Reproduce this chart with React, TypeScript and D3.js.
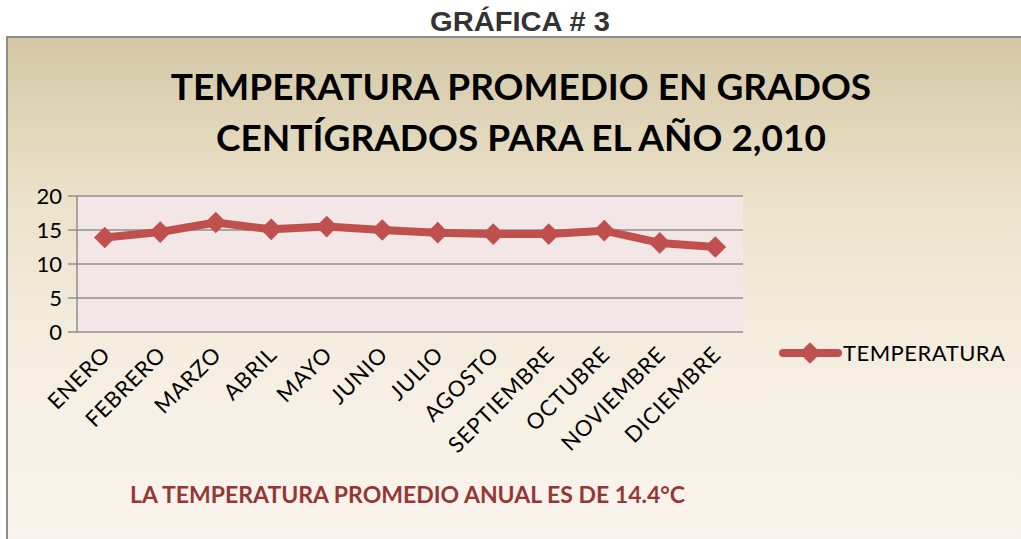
import React, { useEffect, useRef } from 'react'
import * as d3 from 'd3'

const months = ['ENERO', 'FEBRERO', 'MARZO', 'ABRIL', 'MAYO', 'JUNIO', 'JULIO', 'AGOSTO', 'SEPTIEMBRE', 'OCTUBRE', 'NOVIEMBRE', 'DICIEMBRE']
const temperatura = [13.9, 14.7, 16.1, 15.1, 15.5, 15.0, 14.6, 14.4, 14.4, 14.9, 13.1, 12.5]
const yTicks = [0, 5, 10, 15, 20]
const seriesName = 'TEMPERATURA'

const W = 1021
const H = 539
const font = 'Lato, "Open Sans", sans-serif'

export default function App() {
  const ref = useRef<SVGSVGElement | null>(null)

  useEffect(() => {
    if (!ref.current) return
    const svg = d3.select(ref.current)
    svg.selectAll('*').remove()

    const defs = svg.append('defs')
    const grad = defs.append('linearGradient').attr('id', 'bg').attr('x1', 0).attr('y1', 0).attr('x2', 0).attr('y2', 1)
    grad.append('stop').attr('offset', '0%').attr('stop-color', '#d3c7a5')
    grad.append('stop').attr('offset', '30%').attr('stop-color', '#ebe2ca')
    grad.append('stop').attr('offset', '60%').attr('stop-color', '#f5eee0')
    grad.append('stop').attr('offset', '100%').attr('stop-color', '#fcf5f0')

    // page title
    svg.append('text')
      .attr('x', 430).attr('y', 31)
      .attr('font-family', '"Liberation Sans Narrow", "Liberation Sans", Arial, sans-serif')
      .attr('font-weight', 'bold').attr('font-size', 27)
      .attr('textLength', 180).attr('lengthAdjust', 'spacingAndGlyphs')
      .attr('fill', '#333')
      .text('GRÁFICA # 3')

    // chart frame
    svg.append('rect')
      .attr('x', 7).attr('y', 37).attr('width', W + 10).attr('height', H)
      .attr('fill', 'url(#bg)').attr('stroke', '#8c8c8c').attr('stroke-width', 2)

    // chart title
    const title = svg.append('text')
      .attr('text-anchor', 'middle')
      .attr('font-family', font).attr('font-weight', 'bold').attr('font-size', 37)
      .attr('fill', '#000')
    title.append('tspan').attr('x', 521).attr('y', 100).text('TEMPERATURA PROMEDIO EN GRADOS')
    title.append('tspan').attr('x', 521).attr('y', 151).text('CENTÍGRADOS PARA EL AÑO 2,010')

    const left = 77, right = 743, top = 196, bottom = 332

    const x = d3.scaleBand<string>().domain(months).range([left, right])
    const y = d3.scaleLinear().domain([0, 20]).range([bottom, top])

    svg.append('rect')
      .attr('x', left).attr('y', top).attr('width', right - left).attr('height', bottom - top)
      .attr('fill', '#f2e7e6')

    // gridlines
    svg.append('g').selectAll('line').data(yTicks).join('line')
      .attr('x1', left - 9).attr('x2', right)
      .attr('y1', (d) => y(d)).attr('y2', (d) => y(d))
      .attr('stroke', '#8f8f8f').attr('stroke-width', 1.5)

    svg.append('line')
      .attr('x1', left).attr('x2', left).attr('y1', top).attr('y2', bottom)
      .attr('stroke', '#8f8f8f').attr('stroke-width', 1.5)

    svg.append('g').selectAll('text').data(yTicks).join('text')
      .attr('x', 62).attr('y', (d) => y(d) + 8)
      .attr('text-anchor', 'end')
      .attr('font-family', font).attr('font-size', 22).attr('fill', '#000')
      .text((d) => d)

    // x labels
    svg.append('g').selectAll('text').data(months).join('text')
      .attr('transform', (d) => `translate(${(x(d) ?? 0) + x.bandwidth() / 2 + 7},${bottom + 24}) rotate(-45)`)
      .attr('text-anchor', 'end')
      .attr('font-family', font).attr('font-size', 22).attr('letter-spacing', 0.8).attr('fill', '#000')
      .text((d) => d)

    const cx = (d: string) => (x(d) ?? 0) + x.bandwidth() / 2
    const line = d3.line<number>()
      .x((_d, i) => cx(months[i]))
      .y((d) => y(d))

    svg.append('path')
      .datum(temperatura)
      .attr('d', line)
      .attr('fill', 'none').attr('stroke', '#c0504d').attr('stroke-width', 8)
      .attr('stroke-linejoin', 'round').attr('stroke-linecap', 'round')

    const diamond = d3.symbol().type(d3.symbolDiamond2).size(300)
    svg.append('g').selectAll('path').data(temperatura).join('path')
      .attr('transform', (d, i) => `translate(${cx(months[i])},${y(d)})`)
      .attr('d', diamond)
      .attr('fill', '#c0504d')

    // legend
    const lg = svg.append('g').attr('transform', 'translate(0,353)')
    lg.append('line').attr('x1', 783).attr('x2', 838).attr('y1', 0).attr('y2', 0)
      .attr('stroke', '#c0504d').attr('stroke-width', 8).attr('stroke-linecap', 'round')
    lg.append('path').attr('transform', 'translate(810,0)').attr('d', diamond).attr('fill', '#c0504d')
    lg.append('text').attr('x', 843).attr('y', 8)
      .attr('font-family', font).attr('font-size', 22).attr('letter-spacing', 0.5).attr('fill', '#000')
      .text(seriesName)

    // caption
    svg.append('text')
      .attr('x', 130).attr('y', 503)
      .attr('font-family', font).attr('font-weight', 'bold').attr('font-size', 23)
      .attr('fill', '#953735')
      .text('LA TEMPERATURA PROMEDIO ANUAL ES DE 14.4°C')
  }, [])

  return (
    <svg ref={ref} width={W} height={H} style={{ position: 'absolute', left: 0, top: 0, display: 'block' }} />
  )
}
